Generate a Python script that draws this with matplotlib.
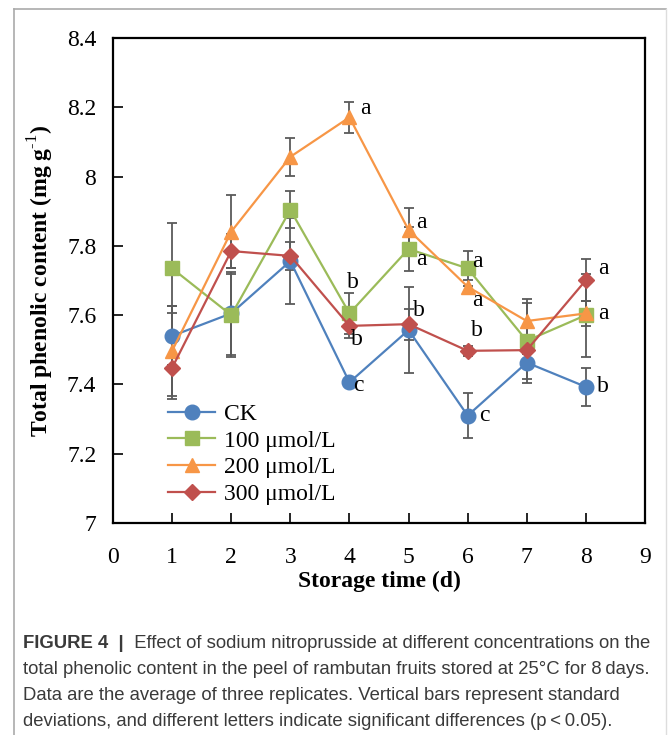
import matplotlib
matplotlib.use("Agg")
import matplotlib.pyplot as plt
from matplotlib.lines import Line2D

days = [1, 2, 3, 4, 5, 6, 7, 8]
ck = [7.54, 7.605, 7.756, 7.406, 7.557, 7.31, 7.463, 7.393]
ck_sd = [0.085, 0.12, 0.125, 0.01, 0.125, 0.065, 0.06, 0.055]
t100 = [7.735, 7.60, 7.904, 7.605, 7.791, 7.735, 7.526, 7.60]
t100_sd = [0.13, 0.12, 0.053, 0.06, 0.063, 0.05, 0.11, 0.12]
t200 = [7.497, 7.841, 8.057, 8.171, 7.846, 7.682, 7.583, 7.605]
t200_sd = [0.13, 0.105, 0.054, 0.045, 0.063, 0.02, 0.065, 0.035]
t300 = [7.448, 7.785, 7.771, 7.569, 7.574, 7.497, 7.499, 7.701]
t300_sd = [0.09, 0.05, 0.04, 0.035, 0.045, 0.015, 0.01, 0.06]
series_names = ["CK", "100 \u03bcmol/L", "200 \u03bcmol/L", "300 \u03bcmol/L"]
colors = ["#4F81BD", "#9BBB59", "#F79646", "#C0504D"]
markers = ["o", "s", "^", "D"]
msizes = [10.5, 10, 10.5, 8]

# significance letters: (day, value, letter, dx, dy) offsets in data units
letters = [
    (4, 8.171, "a", 0.27, 0.025), (4, 7.605, "b", 0.05, 0.09),
    (4, 7.569, "b", 0.12, -0.04), (4, 7.406, "c", 0.15, -0.01),
    (5, 7.846, "a", 0.22, 0.02), (5, 7.791, "a", 0.22, -0.03),
    (5, 7.574, "b", 0.18, 0.04),
    (6, 7.735, "a", 0.17, 0.02), (6, 7.682, "a", 0.17, -0.04),
    (6, 7.497, "b", 0.15, 0.06), (6, 7.31, "c", 0.29, 0.0),
    (8, 7.701, "a", 0.29, 0.035), (8, 7.605, "a", 0.29, 0.0),
    (8, 7.393, "b", 0.29, 0.0),
]

plt.rcParams['font.family'] = ['Liberation Serif', 'DejaVu Serif']
plt.rcParams['mathtext.fontset'] = 'custom'
plt.rcParams['mathtext.rm'] = 'Liberation Serif'
plt.rcParams['mathtext.bf'] = 'Liberation Serif:bold'

fig = plt.figure(figsize=(6.68, 7.35), dpi=100)
ax = fig.add_axes([113/668, 1-523/735, (645-113)/668, (523-38)/735])

data = [(ck, ck_sd), (t100, t100_sd), (t200, t200_sd), (t300, t300_sd)]
for (vals, sd) in data:
    ax.errorbar(days, vals, yerr=sd, fmt='none', ecolor='#5a5a5a', elinewidth=1.3,
                capsize=3.5, capthick=1.3, zorder=2)
for (vals, sd), name, c, m, ms in zip(data, series_names, colors, markers, msizes):
    ax.plot(days, vals, color=c, marker=m, markersize=ms, linewidth=1.6,
            label=name, zorder=3)

for d, v, l, dx, dy in letters:
    ax.text(d + dx, v + dy, l, fontsize=17, ha='center', va='center', color='black', zorder=4)

ax.set_xlim(0, 9)
ax.set_ylim(7, 8.4)
ax.set_xticks(range(0, 10))
ax.set_yticks([7, 7.2, 7.4, 7.6, 7.8, 8, 8.2, 8.4])
ax.set_yticklabels(["7", "7.2", "7.4", "7.6", "7.8", "8", "8.2", "8.4"])
ax.tick_params(axis='both', direction='in', labelsize=17, length=7, width=1.2)
ax.tick_params(axis='x', pad=17)
ax.tick_params(axis='y', pad=12)
ax.tick_params(top=False, right=False)
for s in ax.spines.values():
    s.set_linewidth(1.6)

ax.set_xlabel("Storage time (d)", fontsize=17, fontweight='bold', labelpad=2)
ax.set_ylabel(r"Total phenolic content (mg g$^{\text{-1}}$)", fontsize=17,
              fontweight='bold', labelpad=8)

leg = ax.legend(loc='lower left', bbox_to_anchor=(0.077, 0.008), frameon=False,
                fontsize=17, handlelength=2.0, handletextpad=0.35,
                labelspacing=0.22, borderaxespad=0.2)

# figure frame
fc = '#aaaaaa'
fig.add_artist(Line2D([14/668, 14/668], [0, 1-9/735], color=fc, lw=1.2, transform=fig.transFigure))
fig.add_artist(Line2D([14/668, 666/668], [1-9/735, 1-9/735], color=fc, lw=1.2, transform=fig.transFigure))
fig.add_artist(Line2D([666/668, 666/668], [0, 1-9/735], color='#dddddd', lw=1.0, transform=fig.transFigure))

# caption
capfont = 'Liberation Sans'
capsize = 13.3
ccol = '#3a3a3a'
renderer = fig.canvas.get_renderer()
x0 = 23/668
t1 = fig.text(x0, 1-643/735, "FIGURE 4  |", fontsize=capsize, fontweight='bold', family=capfont,
              color=ccol, va='center', ha='left')
bb = t1.get_window_extent(renderer)
fig.text(bb.x1/668, 1-643/735, "  Effect of sodium nitroprusside at different concentrations on the",
         fontsize=capsize, family=capfont, color=ccol, va='center', ha='left')
lines = ["total phenolic content in the peel of rambutan fruits stored at 25\u00b0C for 8\u2009days.",
         "Data are the average of three replicates. Vertical bars represent standard",
         "deviations, and different letters indicate significant differences (p\u2009<\u20090.05)."]
for i, ln in enumerate(lines):
    fig.text(x0, 1-(669 + 26*i)/735, ln, fontsize=capsize, family=capfont, color=ccol,
             va='center', ha='left')

fig.savefig("out.png", dpi=100)
